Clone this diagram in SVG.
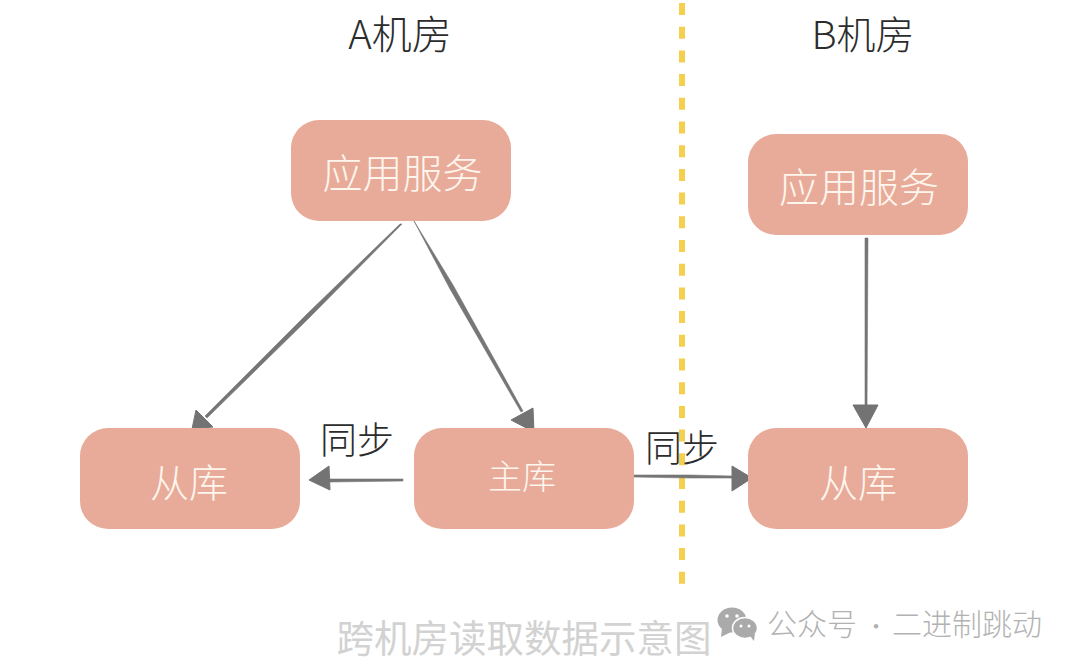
<svg xmlns="http://www.w3.org/2000/svg" width="1080" height="668" viewBox="0 0 1080 668">
<defs>
<style>
.box{fill:#e9ab99}
.t{font-family:"Noto Sans CJK SC","Noto Sans CJK JP",sans-serif;text-anchor:middle;font-weight:300}
.w{fill:#fdf6ee}
.k{fill:#2c2c2c}
.c{fill:#767676;stroke:#767676;stroke-width:.6;stroke-linejoin:round}
.h{fill:#737373;stroke:#737373;stroke-width:1;stroke-linejoin:round}
.wm{fill:#b2b2b2;font-size:30px;font-family:"Noto Sans CJK SC","Noto Sans CJK JP",sans-serif;font-weight:300}
</style>
</defs>
<rect width="1080" height="668" fill="#fff"/>
<g id="divider"><line x1="682" y1="3" x2="682" y2="584" stroke="#f5d04f" stroke-width="6" stroke-dasharray="12 11.7"/></g>
<g id="connectors">
<path class="c" d="M402 224L400 224L307 314L205 416L207 418L309 318Z"/><path class="h" d="M192 429L196 410L213 427Z"/>
<path class="c" d="M414 221L450 289L521 412L523 411L453 285Z"/><path class="h" d="M534 432L511 420L533 408Z"/>
<path class="c" d="M865 238L868 238L867 408L865 408Z"/><path class="h" d="M866 428L853 405L878 405Z"/>
<path class="c" d="M403 479L403 481L329 482L329 479Z"/><path class="h" d="M309 480L329 466L330 490Z"/>
<path class="c" d="M633 475L690 475L732 476L732 478L690 478L633 477Z"/><path class="h" d="M752 478L732 466L732 491Z"/>
</g>
<g id="title-a"><text class="t k" x="400" y="49" font-size="40">A机房</text></g>
<g id="title-b"><text class="t k" x="863" y="49" font-size="39">B机房</text></g>
<g id="app-a"><rect class="box" x="291" y="120" width="220" height="101" rx="28"/><text class="t w" x="402.500" y="188" font-size="40">应用服务</text></g>
<g id="app-b"><rect class="box" x="748" y="134" width="220" height="101" rx="28"/><text class="t w" x="859" y="202" font-size="40">应用服务</text></g>
<g id="slave-a"><rect class="box" x="80" y="428" width="220" height="101" rx="28"/><text class="t w" x="189" y="497" font-size="39">从库</text></g>
<g id="master-a"><rect class="box" x="414" y="428" width="220" height="101" rx="28"/><text class="t w" x="522" y="489" font-size="34">主库</text></g>
<g id="slave-b"><rect class="box" x="748" y="428" width="220" height="101" rx="28"/><text class="t w" x="858" y="497" font-size="39">从库</text></g>
<g id="sync-left"><text class="t k" x="357" y="454" font-size="37">同步</text></g>
<g id="sync-right"><text class="t k" x="682" y="462" font-size="37">同步</text></g>
<g id="caption"><text class="t" x="524" y="652" fill="#d2d2d2" font-size="37.500" style="font-weight:400">跨机房读取数据示意图</text></g>
<g id="watermark">
<ellipse cx="732" cy="620" rx="14.500" ry="12.500" fill="#aaa"/><path d="M722 628L721 637L731 632Z" fill="#aaa"/>
<ellipse cx="745" cy="628" rx="12.500" ry="10.500" fill="#aaa" stroke="#fff" stroke-width="1.500"/><path d="M750 636L754 641L755 633Z" fill="#aaa"/>
<circle cx="727" cy="616" r="1.800" fill="#fff"/><circle cx="737" cy="616" r="1.800" fill="#fff"/><circle cx="741" cy="626" r="1.500" fill="#fff"/><circle cx="749" cy="626" r="1.500" fill="#fff"/>
<text class="wm" x="767" y="635">公众号</text>
<text class="wm" x="864" y="635" font-size="24" style="font-size:24px">·</text>
<text class="wm" x="892" y="635">二进制跳动</text>
</g>
</svg>
